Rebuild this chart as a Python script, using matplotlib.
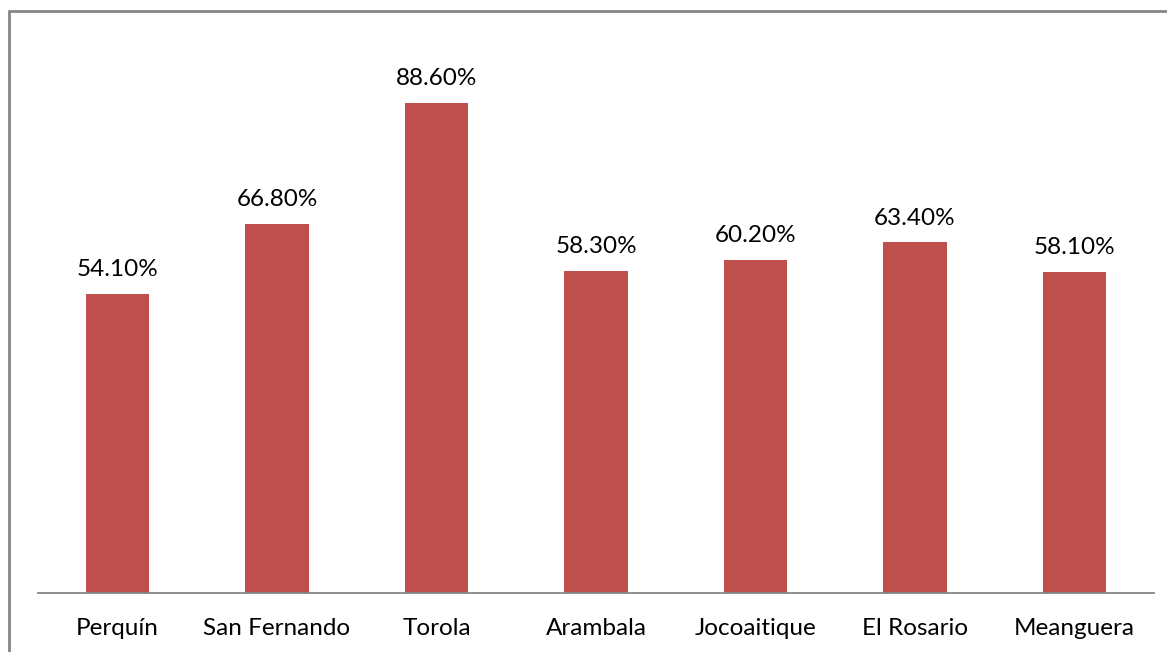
import matplotlib
matplotlib.use("Agg")
import matplotlib.pyplot as plt
from matplotlib.patches import Rectangle

categories = ["Perquín", "San Fernando", "Torola", "Arambala", "Jocoaitique", "El Rosario", "Meanguera"]
values = [54.1, 66.8, 88.6, 58.3, 60.2, 63.4, 58.1]
labels = ["54.10%", "66.80%", "88.60%", "58.30%", "60.20%", "63.40%", "58.10%"]

plt.rcParams['font.family'] = ['Lato', 'DejaVu Sans']

W, H = 1167, 652
fig = plt.figure(figsize=(W / 100, H / 100), dpi=100)
ax = fig.add_axes([37.75 / W, (H - 593) / H, 1116.5 / W, 553 / H])

x = list(range(len(categories)))
ax.bar(x, values, width=0.395, color="#C0504D", zorder=2)
for xi, v, lab in zip(x, values, labels):
    ax.annotate(lab, (xi, v), xytext=(0, 10), textcoords="offset points",
                ha="center", va="bottom", fontsize=17.5, color="#000000")

ax.set_xlim(-0.5, len(categories) - 0.5)
ax.set_ylim(0, 100)
ax.set_xticks(x)
ax.set_xticklabels(categories, fontsize=17.5)
ax.tick_params(axis="x", length=0, pad=18)
ax.set_yticks([])
for s in ["top", "right", "left"]:
    ax.spines[s].set_visible(False)
ax.spines["bottom"].set_color("#868686")
ax.spines["bottom"].set_linewidth(1.3)

fig.patches.append(Rectangle((9.0 / W, -0.1), 1.2, (H - 10.5) / H + 0.1,
                             transform=fig.transFigure, fill=False,
                             edgecolor="#868686", linewidth=2.0))

fig.savefig("out.png", dpi=100)
